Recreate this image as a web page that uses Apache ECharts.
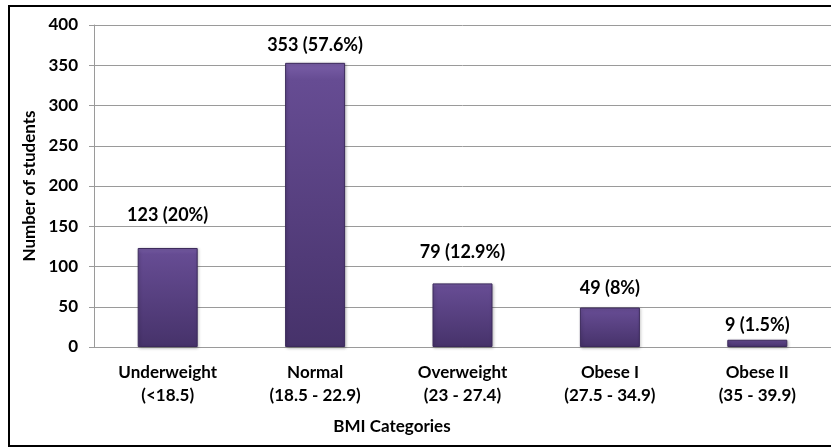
<!DOCTYPE html>
<html>
<head>
<meta charset="utf-8">
<script src="https://cdn.jsdelivr.net/npm/echarts@6/dist/echarts.min.js"></script>
<style>
  html, body { margin: 0; padding: 0; background: #fff; }
  #main { width: 831px; height: 448px; }
</style>
</head>
<body>
<div id="main"></div>
<script>
// BMI categories and counts
const categories = ['Underweight\n(<18.5)', 'Normal\n(18.5 - 22.9)', 'Overweight\n(23 - 27.4)', 'Obese I\n(27.5 - 34.9)', 'Obese II\n(35 - 39.9)'];
const students = [123, 353, 79, 49, 9];
const percents = ['20%', '57.6%', '12.9%', '8%', '1.5%'];
const yTicks = [0, 50, 100, 150, 200, 250, 300, 350, 400];

// labels were dragged by hand in the original, so lift differs a bit per bar
const labelLift = [24, 9, 22, 10, 6];

const font = 'Lato, "Open Sans", sans-serif';

let myChart = echarts.init(document.getElementById('main'));

const barColor = new echarts.graphic.LinearGradient(0, 0, 0, 1, [
    {offset: 0, color: '#7a5fa8'},
    {offset: 0.06, color: '#664c93'},
    {offset: 1, color: '#46326a'}
]);

const option = {
    animation: false,
    backgroundColor: '#fff',
    grid: {left: 94, top: 25, width: 741, height: 322, containLabel: false},
    graphic: [{
        type: 'rect',
        shape: {x: 9, y: 6, width: 840, height: 440},
        style: {fill: 'none', stroke: '#000', lineWidth: 2},
        silent: true
    }, {
        type: 'text',
        x: 392,
        y: 427,
        style: {
            text: 'BMI Categories',
            font: 'bold 17px ' + font,
            fill: '#000',
            align: 'center',
            verticalAlign: 'middle'
        }
    }],
    xAxis: {
        type: 'category',
        data: categories,
        axisLine: {lineStyle: {color: '#9a9a9a', width: 1}},
        axisTick: {show: false},
        axisLabel: {
            color: '#000',
            fontFamily: font,
            fontWeight: 'bold',
            fontSize: 17,
            lineHeight: 23,
            margin: 14,
            interval: 0
        }
    },
    yAxis: {
        type: 'value',
        min: 0,
        max: 400,
        interval: 50,
        name: 'Number of students',
        nameLocation: 'middle',
        nameGap: 51,
        nameRotate: 90,
        nameTextStyle: {color: '#000', fontFamily: font, fontWeight: 'bold', fontSize: 17},
        axisLine: {show: true, lineStyle: {color: '#9a9a9a'}},
        axisTick: {show: true, length: 5, lineStyle: {color: '#9a9a9a'}},
        splitLine: {lineStyle: {color: '#9a9a9a', width: 1}},
        axisLabel: {
            color: '#000',
            fontFamily: font,
            fontWeight: 'bold',
            fontSize: 17,
            margin: 16,
            customValues: yTicks
        }
    },
    series: [{
        type: 'bar',
        barWidth: 60,
        data: students.map((v, i) => ({
            value: v,
            label: {distance: labelLift[i]}
        })),
        itemStyle: {
            color: barColor,
            borderColor: '#3c2a5c',
            borderWidth: 1,
            shadowColor: 'rgba(0,0,0,0.25)',
            shadowBlur: 3,
            shadowOffsetX: 1,
            shadowOffsetY: 1
        },
        label: {
            show: true,
            position: 'top',
            color: '#000',
            fontFamily: font,
            fontWeight: 'bold',
            fontSize: 18,
            formatter: p => p.value + ' (' + percents[p.dataIndex] + ')'
        }
    }]
};

myChart.setOption(option);
</script>
</body>
</html>
